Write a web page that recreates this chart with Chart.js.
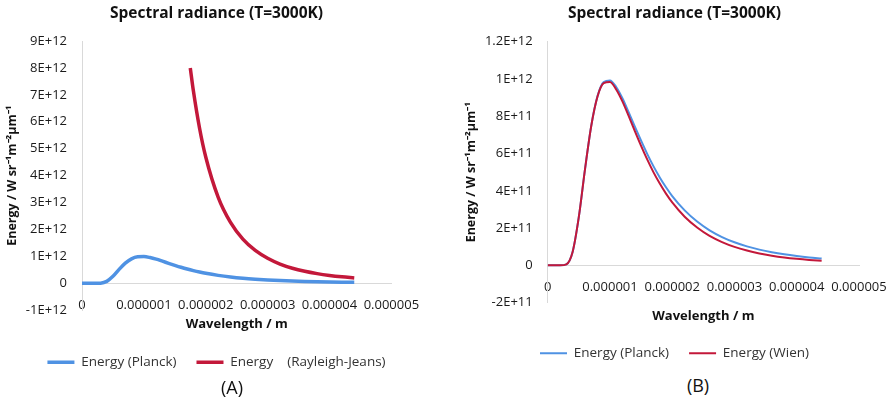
<!DOCTYPE html>
<html>
<head>
<meta charset="utf-8">
<script src="https://cdn.jsdelivr.net/npm/chart.js@4/dist/chart.umd.min.js"></script>
<style>
  html, body { margin: 0; padding: 0; background: #fff; width: 892px; height: 399px; overflow: hidden; }
  .wrap { position: absolute; top: 0; }
  .tag { position: absolute; font: 18px/24px "Open Sans", sans-serif; color: #111; transform: translateX(-50%); }
</style>
</head>
<body>
<div class="wrap" style="left:0"><canvas id="chartA" width="433" height="379"></canvas></div>
<div class="wrap" style="left:446px"><canvas id="chartB" width="457" height="370"></canvas></div>
<div class="tag" style="left:232px; top:375px">(A)</div>
<div class="tag" style="left:698px; top:373px">(B)</div>
<script>
// wavelength grid (m) for Planck / Wien
const wavelengths = [
  0, 0.1e-6, 0.2e-6, 0.3e-6, 0.4e-6, 0.5e-6, 0.6e-6, 0.7e-6, 0.8e-6, 0.9e-6, 1.0e-6,
  1.1e-6, 1.2e-6, 1.3e-6, 1.4e-6, 1.5e-6, 1.6e-6, 1.7e-6, 1.8e-6, 1.9e-6, 2.0e-6,
  2.2e-6, 2.4e-6, 2.6e-6, 2.8e-6, 3.0e-6, 3.2e-6, 3.4e-6, 3.6e-6, 3.8e-6, 4.0e-6, 4.2e-6, 4.4e-6
];
const planckEnergy = [
  0, 0, 0, 0.056e11, 0.72e11, 2.6e11, 5.18e11, 7.5e11, 9.08e11, 9.83e11, 9.92e11,
  9.57e11, 8.97e11, 8.22e11, 7.44e11, 6.69e11, 5.97e11, 5.31e11, 4.72e11, 4.19e11, 3.72e11,
  2.95e11, 2.35e11, 1.88e11, 1.52e11, 1.24e11, 1.02e11, 0.846e11, 0.706e11, 0.593e11, 0.502e11, 0.427e11, 0.366e11
];
const wienEnergy = [
  0, 0, 0, 0.056e11, 0.72e11, 2.6e11, 5.18e11, 7.49e11, 9.06e11, 9.78e11, 9.84e11,
  9.44e11, 8.80e11, 8.02e11, 7.20e11, 6.41e11, 5.67e11, 4.99e11, 4.39e11, 3.85e11, 3.38e11,
  2.61e11, 2.03e11, 1.58e11, 1.25e11, 0.99e11, 0.793e11, 0.639e11, 0.52e11, 0.425e11, 0.351e11, 0.291e11, 0.243e11
];
// Rayleigh-Jeans only plotted from ~1.75 um
const rjWavelengths = [1.75e-6, 1.8e-6, 1.9e-6, 2.0e-6, 2.2e-6, 2.4e-6, 2.6e-6, 2.8e-6, 3.0e-6, 3.2e-6, 3.4e-6, 3.6e-6, 3.8e-6, 4.0e-6, 4.2e-6, 4.4e-6];
const rjEnergy = [8.0e12, 7.15e12, 5.76e12, 4.69e12, 3.2e12, 2.26e12, 1.64e12, 1.22e12, 0.93e12, 0.715e12, 0.56e12, 0.446e12, 0.36e12, 0.293e12, 0.241e12, 0.2e12];

const xTicks = [0, 1e-6, 2e-6, 3e-6, 4e-6, 5e-6];
const xLabels = ['0', '0.000001', '0.000002', '0.000003', '0.000004', '0.000005'];
const yTicksA = [-1e12, 0, 1e12, 2e12, 3e12, 4e12, 5e12, 6e12, 7e12, 8e12, 9e12];
const yLabelsA = ['-1E+12', '0', '1E+12', '2E+12', '3E+12', '4E+12', '5E+12', '6E+12', '7E+12', '8E+12', '9E+12'];
const yTicksB = [-2e11, 0, 2e11, 4e11, 6e11, 8e11, 1e12, 1.2e12];
const yLabelsB = ['-2E+11', '0', '2E+11', '4E+11', '6E+11', '8E+11', '1E+12', '1.2E+12'];

const FONT = '"Open Sans", sans-serif';
const BLUE = '#4F92E3';
const RED = '#C3183A';
const AXIS = '#d9d9d9';

const pts = (xs, ys) => xs.map((x, i) => ({ x: x, y: ys[i] }));

function series(label, xs, ys, color, width, order) {
  return {
    label: label,
    data: pts(xs, ys),
    borderColor: color,
    backgroundColor: color,
    borderWidth: width,
    pointRadius: 0,
    cubicInterpolationMode: 'monotone',
    xAxisID: 'x',
    yAxisID: 'y',
    order: order
  };
}

function build(id, p) {
  return new Chart(document.getElementById(id), {
    type: 'line',
    data: { datasets: p.datasets },
    options: {
      responsive: false,
      animation: false,
      devicePixelRatio: 1,
      layout: { padding: 0 },
      plugins: {
        title: {
          display: true,
          text: 'Spectral radiance (T=3000K)',
          color: '#111',
          font: { family: FONT, size: 15.5, weight: 'bold' },
          padding: { top: 4.7, bottom: p.titleBottom }
        },
        legend: {
          position: 'bottom',
          labels: {
            color: '#333',
            font: { family: FONT, size: 13.5 },
            usePointStyle: true,
            pointStyle: 'line',
            pointStyleWidth: 27,
            padding: 20,
            sort: (a, b) => a.datasetIndex - b.datasetIndex
          }
        },
        tooltip: { enabled: false }
      },
      scales: {
        x: {
          type: 'linear',
          position: { y: 0 },
          min: 0,
          max: 5e-6,
          grid: { display: false, drawTicks: false },
          border: { display: true, color: AXIS, width: 1 },
          afterBuildTicks: s => { s.ticks = xTicks.map(v => ({ value: v })); },
          ticks: {
            autoSkip: false,
            maxRotation: 0,
            padding: p.xTickPad,
            color: '#1a1a1a',
            font: { family: FONT, size: 13 },
            callback: (v, i) => xLabels[i]
          }
        },
        xT: {
          type: 'linear',
          position: 'bottom',
          min: 0,
          max: 1,
          grid: { display: false, drawTicks: false },
          border: { display: false },
          ticks: { display: false },
          title: {
            display: true,
            text: 'Wavelength / m',
            color: '#111',
            font: { family: FONT, size: 13, weight: 'bold' },
            padding: { top: p.xTitleTop, bottom: p.xTitleBottom }
          }
        },
        y: {
          type: 'linear',
          position: 'left',
          min: p.yTicks[0],
          max: p.yTicks[p.yTicks.length - 1],
          grid: { display: false, drawTicks: false },
          border: { display: true, color: AXIS, width: 1 },
          afterBuildTicks: s => { s.ticks = p.yTicks.map(v => ({ value: v })); },
          afterFit: s => { s.width = p.yWidth; },
          ticks: {
            padding: 15,
            color: '#1a1a1a',
            font: { family: FONT, size: 13 },
            callback: (v, i) => p.yLabels[i]
          },
          title: {
            display: true,
            text: 'Energy / W sr\u207B\u00B9m\u207B\u00B2\u00B5m\u207B\u00B9',
            color: '#111',
            font: { family: FONT, size: 12.5, weight: 'bold' },
            padding: { top: p.yTitlePad, bottom: 0 }
          }
        },
        yR: {
          type: 'linear',
          position: 'right',
          grid: { display: false, drawTicks: false },
          border: { display: false },
          ticks: { display: false },
          afterFit: s => { s.width = p.rightWidth; }
        }
      }
    }
  });
}

build('chartA', {
  datasets: [
    series('Energy (Planck)', wavelengths, planckEnergy, BLUE, 3.5, 1),
    series('Energy    (Rayleigh-Jeans)', rjWavelengths, rjEnergy, RED, 3.5, 0)
  ],
  yTicks: yTicksA, yLabels: yLabelsA,
  titleBottom: 17.7, xTickPad: 13.9, xTitleTop: 6.2, xTitleBottom: 3.45,
  yWidth: 82, yTitlePad: 4.5, rightWidth: 28.4
});

build('chartB', {
  datasets: [
    series('Energy (Planck)', wavelengths, planckEnergy, BLUE, 2, 1),
    series('Energy (Wien)', wavelengths, wienEnergy, RED, 2, 0)
  ],
  yTicks: yTicksB, yLabels: yLabelsB,
  titleBottom: 18.4, xTickPad: 13.8, xTitleTop: 5.5, xTitleBottom: 2.75,
  yWidth: 101.7, yTitlePad: 17.5, rightWidth: 44
});
</script>
</body>
</html>
